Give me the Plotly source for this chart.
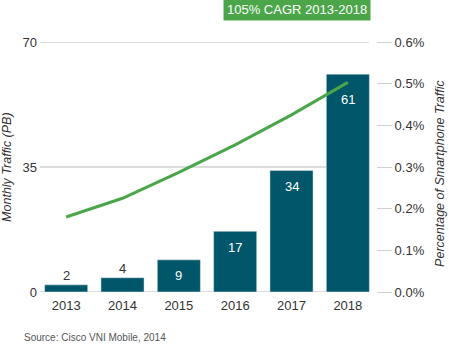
import plotly.graph_objects as go

# Mobile data: monthly traffic (PB) and smartphone share of traffic (%)
years = ["2013", "2014", "2015", "2016", "2017", "2018"]
traffic_pb = [2, 4, 9, 17, 34, 61]
smartphone_pct = [0.18, 0.225, 0.287, 0.353, 0.425, 0.503]
left_ticks = [0, 35, 70]
right_ticks = [0.0, 0.1, 0.2, 0.3, 0.4, 0.5, 0.6]
cagr_label = "105% CAGR 2013-2018"
source_note = "Source: Cisco VNI Mobile, 2014"

BAR = "#01566a"
GREEN = "#4ba649"
GRID = "#d0d0d0"
TXT = "#333333"
FONT = "Liberation Sans, Arial, sans-serif"

fig = go.Figure()

fig.add_trace(go.Bar(
    x=years, y=traffic_pb, marker=dict(color=BAR),
    showlegend=False, hoverinfo="skip",
))

fig.add_trace(go.Scatter(
    x=years, y=smartphone_pct, mode="lines",
    line=dict(color=GREEN, width=3), yaxis="y2",
    showlegend=False, hoverinfo="skip",
))

annotations = []
# value labels: small bars get a label above, tall bars a white label inside
# (category index used for x so year strings are not read as numbers)
for i, v in enumerate(traffic_pb):
    inside = v >= 9
    annotations.append(dict(
        x=i, y=v, xref="x", yref="y", text=str(v), showarrow=False,
        xanchor="center", yanchor="middle",
        yshift=(-16 if v < 50 else -25) if inside else 9,
        font=dict(family=FONT, size=13, color="white" if inside else TXT),
    ))

annotations += [
    dict(x=0.766, y=1.13, xref="paper", yref="paper", text=cagr_label,
         xanchor="center", yanchor="middle",
         showarrow=False, bgcolor=GREEN, borderpad=3,
         font=dict(family=FONT, size=13, color="white")),
    dict(x=-0.092, y=0.5, xref="paper", yref="paper",
         xanchor="center", yanchor="middle",
         text="<i>Monthly Traffic (PB)</i>", textangle=-90, showarrow=False,
         font=dict(family=FONT, size=12.5, color=TXT)),
    dict(x=1.189, y=0.476, xref="paper", yref="paper",
         xanchor="center", yanchor="middle",
         text="<i>Percentage of Smartphone Traffic</i>", textangle=-90,
         showarrow=False, font=dict(family=FONT, size=12.5, color=TXT)),
    dict(x=-0.047, y=-0.18, xref="paper", yref="paper", xanchor="left",
         yanchor="middle",
         text=source_note, showarrow=False,
         font=dict(family=FONT, size=10, color="#555555")),
]

# horizontal rules at the left-axis ticks
shapes = [
    dict(type="line", xref="paper", yref="y", x0=0.005, x1=0.979,
         y0=t, y1=t, line=dict(color=GRID, width=1.3), layer="below")
    for t in left_ticks
]

fig.update_layout(
    width=449, height=344,
    margin=dict(l=38, r=73, t=42, b=52),
    paper_bgcolor="white", plot_bgcolor="white",
    font=dict(family=FONT, size=13, color=TXT),
    bargap=0.235,
    xaxis=dict(type="category", categoryorder="array", categoryarray=years,
               range=[-0.5, 5.5], autorange=False,
               showgrid=False, showline=False, zeroline=False, ticks="",
               ticklabelstandoff=4,
               tickfont=dict(size=13, color=TXT)),
    yaxis=dict(range=[0, 70], tickvals=left_ticks, showgrid=False,
               zeroline=False, showline=False, ticks="",
               tickfont=dict(size=13, color=TXT)),
    yaxis2=dict(range=[0, 0.6], overlaying="y", side="right",
                tickvals=right_ticks,
                ticktext=[f"{t:.1f}%" for t in right_ticks],
                showgrid=False, zeroline=False, showline=False,
                ticks="outside", ticklen=15, tickcolor=GRID, tickwidth=1.3,
                tickfont=dict(size=13, color=TXT)),
    annotations=annotations,
    shapes=shapes,
)

fig.write_html("out.html")
